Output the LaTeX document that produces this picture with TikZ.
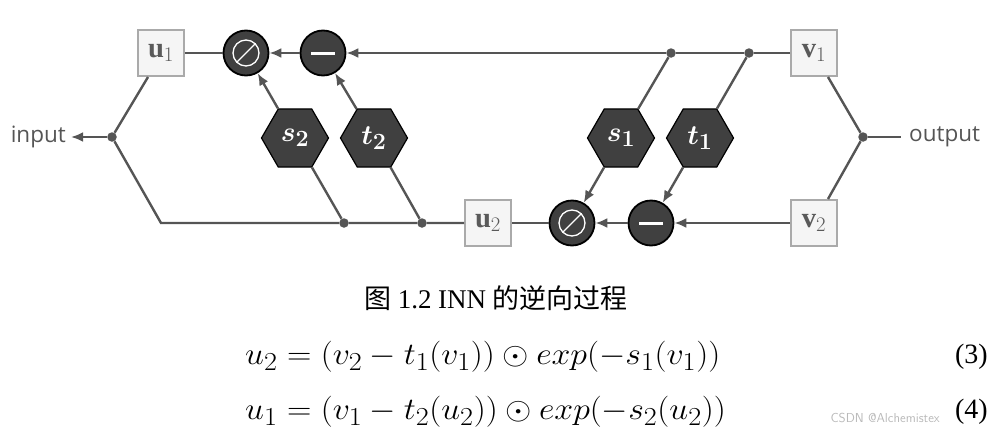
\documentclass[tikz,border=0pt]{standalone}
\usepackage{amsmath,bm,graphicx}
\usepackage{fontspec}
\setmainfont{Liberation Serif}
\newfontfamily\cjk{Noto Sans CJK SC}
\newfontfamily\lblsans{Open Sans}
\usetikzlibrary{arrows.meta,shapes.geometric}
\definecolor{wirec}{HTML}{555555}
\definecolor{opfill}{HTML}{404040}
\definecolor{boxc}{HTML}{AAAAAA}
\definecolor{boxfill}{HTML}{F5F5F5}
\definecolor{varc}{HTML}{5A5A5A}
\newcommand{\hexlbl}[1]{\scalebox{1.12}{$\bm{#1}$}}
\newcommand{\boxlbl}[1]{\scalebox{1.15}{$\mathbf{#1}$}}
\tikzset{
 wire/.style={draw=wirec, line width=2.4pt},
 arr/.style={wire, -{Latex[length=12pt,width=10pt]}},
 opc/.style={circle, draw=black, line width=1.8pt, fill=opfill, minimum size=45pt, inner sep=0},
 divop/.style={opc, path picture={
   \draw[white,line width=1.3pt] (path picture bounding box.center) circle (13pt);
   \draw[white,line width=1.3pt] (path picture bounding box.center) ++(-9.5pt,-9.5pt) -- ++(19pt,19pt);}},
 subop/.style={opc, path picture={
   \draw[white,line width=3pt] (path picture bounding box.center) ++(-12pt,0) -- ++(24pt,0);}},
 hexa/.style={regular polygon, regular polygon sides=6, draw=black, line width=1.2pt, fill=opfill, minimum size=67pt, inner sep=0, text=white, font=\fontsize{24.88}{26}\selectfont},
 varbox/.style={rectangle, draw=boxc, line width=2pt, fill=boxfill, minimum size=46pt, inner sep=0, text=varc, font=\fontsize{24.88}{26}\selectfont},
 jdot/.style={circle, fill=wirec, minimum size=9.5pt, inner sep=0},
 lbl/.style={text=wirec, font=\lblsans\fontsize{22.5}{22.5}\selectfont, inner sep=0},
 eqn/.style={font=\fontsize{24.88}{30}\selectfont, inner sep=0},
 eqnum/.style={font=\fontsize{28}{32}\selectfont, inner sep=0},
}
\begin{document}
\begin{tikzpicture}[x=1pt,y=-1pt]
\useasboundingbox (0,0) rectangle (1006,439);
% variable boxes
\node[varbox] (u1) at (161,53) {\boxlbl{u}$_1$};
\node[varbox] (v1) at (814,53) {\boxlbl{v}$_1$};
\node[varbox] (v2) at (814,223) {\boxlbl{v}$_2$};
\node[varbox] (u2) at (488,223) {\boxlbl{u}$_2$};
% operators
\node[divop] (divT) at (246,53) {};
\node[subop] (subT) at (323,53) {};
\node[divop] (divB) at (572,223) {};
\node[subop] (subB) at (651,223) {};
% networks
\node[hexa] (s2) at (295,138) {\hexlbl{s_2}};
\node[hexa] (t2) at (374,138) {\hexlbl{t_2}};
\node[hexa] (s1) at (621,138) {\hexlbl{s_1}};
\node[hexa] (t1) at (700,138) {\hexlbl{t_1}};
% junctions
\node[jdot] (jT1) at (671,53) {};
\node[jdot] (jT2) at (749,53) {};
\node[jdot] (jB1) at (344,223) {};
\node[jdot] (jB2) at (422,223) {};
\node[jdot] (jin) at (112,137) {};
\node[jdot] (jout) at (863,137) {};
\coordinate (cornerB) at (161,223);
% labels
\node[lbl, anchor=east] (inlbl) at (66,137) {input};
\node[lbl, anchor=west] (outlbl) at (909,137) {output};
% wires
\draw[arr, shorten >=5pt] (jin) -- (inlbl.east);
\draw[wire] (jin) -- ([xshift=-13pt]u1.south);
\draw[wire] (jin) -- (cornerB) -- (jB1) -- (jB2) -- (u2);
\draw[wire] (u1) -- (divT);
\draw[arr] (subT) -- (divT);
\draw[arr] (v1) -- (jT2) -- (jT1) -- (subT);
\draw[wire] (jB1) -- (s2);
\draw[arr] (s2) -- (divT);
\draw[wire] (jB2) -- (t2);
\draw[arr] (t2) -- (subT);
\draw[wire] (jT1) -- (s1);
\draw[arr] (s1) -- (divB);
\draw[wire] (jT2) -- (t1);
\draw[arr] (t1) -- (subB);
\draw[arr] (v2) -- (subB);
\draw[arr] (subB) -- (divB);
\draw[wire] (divB) -- (u2);
\draw[wire] ([xshift=14pt]v1.south) -- (jout);
\draw[wire] ([xshift=14pt]v2.north) -- (jout);
\draw[wire, shorten >=8pt] (jout) -- (outlbl.west);
% caption and equations
\node[font=\fontsize{27}{30}\selectfont, inner sep=0] (cap) at (496,298) {{\cjk 图} 1.2 INN {\cjk 的逆向过程}};
\node[eqn, anchor=west] (eq1) at (245,357) {\scalebox{1.36}[1.25]{$u_2=(v_2-t_1(v_1))\odot exp(-s_1(v_1))$}};
\node[eqnum, anchor=east] (n1) at (988,357) {(3)};
\node[eqn, anchor=west] (eq2) at (245,412) {\scalebox{1.36}[1.25]{$u_1=(v_1-t_2(u_2))\odot exp(-s_2(u_2))$}};
\node[eqnum, anchor=east] (n2) at (988,412) {(4)};
\node[text=gray!55, font=\sffamily\fontsize{13}{13}\selectfont, anchor=east, inner sep=0] (wm) at (940,418) {CSDN @Alchemistex};
\end{tikzpicture}
\end{document}
